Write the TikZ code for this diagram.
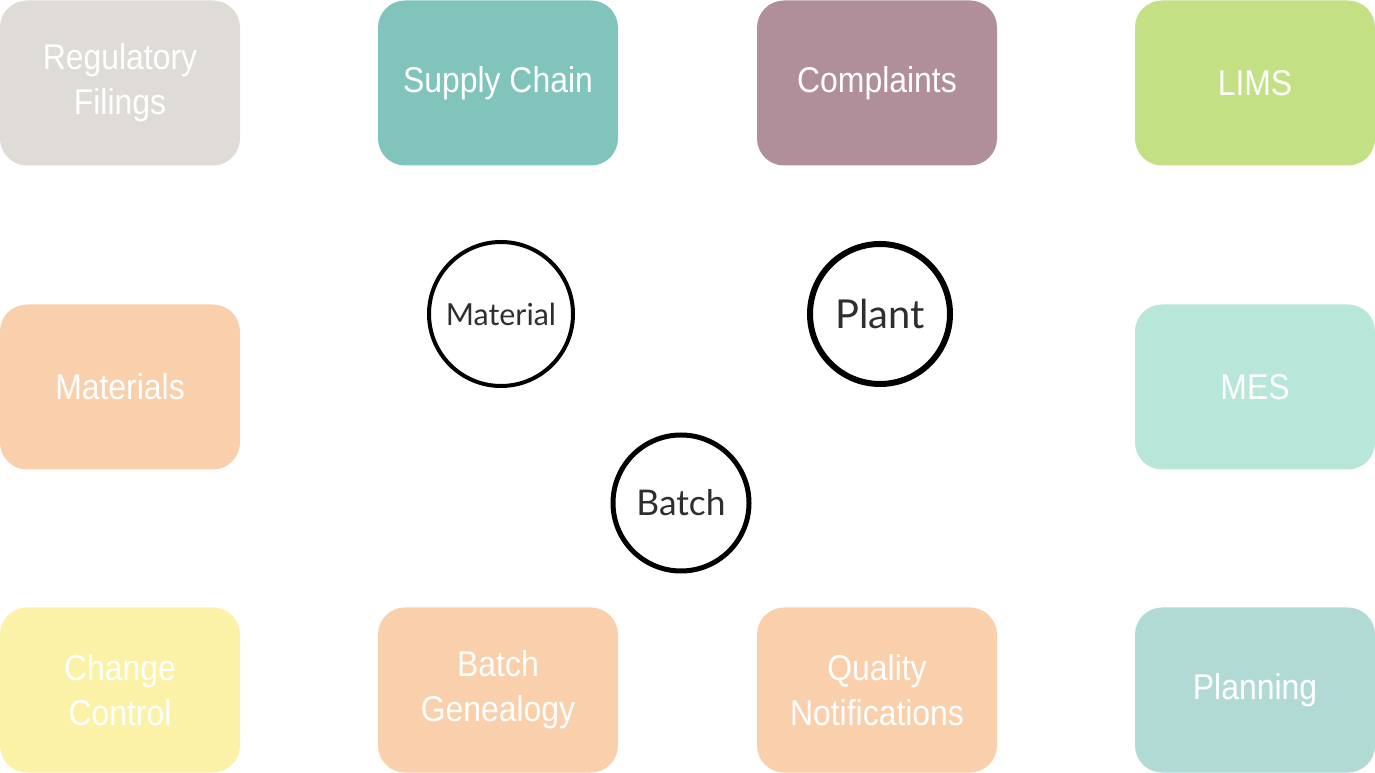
\documentclass[tikz,border=0pt]{standalone}
\usepackage{fontspec}
\setmainfont{Liberation Sans}
\newfontfamily\boxfont[FakeStretch=0.89]{Liberation Sans}
\newfontfamily\keyfont{Lato}
\usepackage{tikz}
\usetikzlibrary{positioning}

\definecolor{regcol}{HTML}{DFDCD7}
\definecolor{supcol}{HTML}{80C4BC}
\definecolor{compcol}{HTML}{B08E9A}
\definecolor{limscol}{HTML}{C3E084}
\definecolor{matcol}{HTML}{FAD0AC}
\definecolor{mescol}{HTML}{B8E6D8}
\definecolor{chgcol}{HTML}{FCF2A7}
\definecolor{plancol}{HTML}{B2DAD5}
\definecolor{keytext}{HTML}{2E2E2E}

\begin{document}
\begin{tikzpicture}[line join=bevel,
  sysbox/.style={rounded corners=27bp,minimum width=240bp,minimum height=165bp,inner sep=0pt,
    text=white,align=center,font=\boxfont\fontsize{36}{45}\selectfont},
  keycirc/.style={circle,draw=black,fill=white,text=keytext,inner sep=0pt},
]
\useasboundingbox (0bp,0bp) rectangle (1375bp,773bp);
%%
\node (regfilings) at (120bp,690bp) [sysbox,fill=regcol] {Regulatory\\Filings};
  \node (supplychain) at (498bp,690bp) [sysbox,fill=supcol] {Supply Chain};
  \node (complaints) at (877bp,690bp) [sysbox,fill=compcol] {Complaints};
  \node (lims) at (1255bp,690bp) [sysbox,fill=limscol] {LIMS};
  \node (materials) at (120bp,386bp) [sysbox,fill=matcol] {Materials};
  \node (mes) at (1255bp,386bp) [sysbox,fill=mescol] {MES};
  \node (changecontrol) at (120bp,83bp) [sysbox,fill=chgcol] {Change\\Control};
  \node (batchgenealogy) at (498bp,83bp) [sysbox,fill=matcol] {Batch\\Genealogy};
  \node (qualitynotif) at (877bp,83bp) [sysbox,fill=matcol] {Quality\\Notifications};
  \node (planning) at (1255bp,83bp) [sysbox,fill=plancol] {Planning};
  \node (material) at (501bp,459bp) [keycirc,minimum size=144bp,line width=4bp,font=\keyfont\fontsize{30.5}{33}\selectfont] {Material};
  \node (plant) at (880bp,459bp) [keycirc,minimum size=140bp,line width=6bp,font=\keyfont\fontsize{40}{44}\selectfont] {Plant};
  \node (batch) at (681bp,270bp) [keycirc,minimum size=136bp,line width=5bp,font=\keyfont\fontsize{35.5}{38}\selectfont] {Batch};
%
\end{tikzpicture}
\end{document}
